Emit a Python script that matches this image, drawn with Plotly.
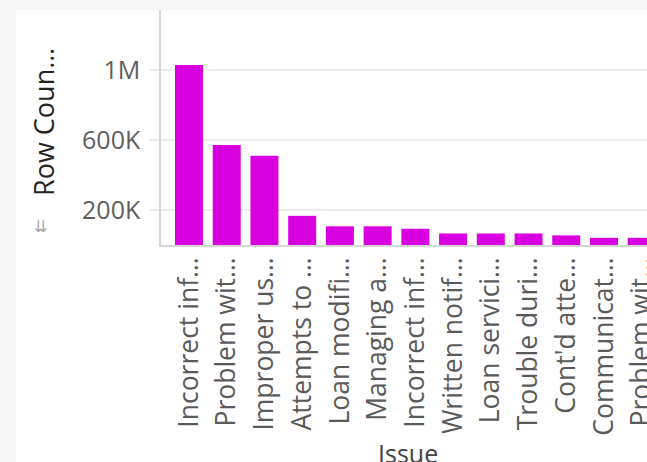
import plotly.graph_objects as go

categories = ["Incorrect inf…", "Problem wit…", "Improper us…", "Attempts to …",
              "Loan modifi…", "Managing a…", "Incorrect inf…", "Written notif…",
              "Loan servici…", "Trouble duri…", "Cont'd atte…", "Communicat…",
              "Problem wit…"]
row_counts = [1030000, 572000, 511000, 167000, 107000, 107000, 93000, 66000,
              66000, 66000, 55000, 41000, 41000]
y_tick_values = [200000, 600000, 1000000]
y_tick_labels = ["200K", "600K", "1M"]

FONT = "Open Sans"
positions = list(range(len(categories)))

fig = go.Figure()
fig.add_trace(go.Bar(x=positions, y=row_counts, marker=dict(color="#D900E0", line=dict(width=0))))

W, H = 647, 462
L, R, T, B = 161, 0, 10, 217
pw = W - L - R
ph = H - T - B

fig.update_layout(
    width=W, height=H,
    margin=dict(l=L, r=R, t=T, b=B, autoexpand=False),
    paper_bgcolor="#f6f6f6",
    plot_bgcolor="rgba(0,0,0,0)",
    bargap=0.258,
    showlegend=False,
    font=dict(family=FONT, color="#605E5C"),
    shapes=[dict(type="rect", xref="paper", yref="paper",
                 x0=(16 - L) / pw, x1=1.1, y0=-2, y1=1.0,
                 fillcolor="white", line=dict(width=0), layer="below")],
)
fig.update_xaxes(
    range=[-0.742, 12.14], automargin=False,
    tickmode="array", tickvals=positions, ticktext=categories,
    tickangle=-90, tickfont=dict(size=26.5, color="#5a5a5a", family=FONT),
    ticklabeloverflow="allow",
    showgrid=False, zeroline=False,
    showline=True, linecolor="#d6d6d6", linewidth=1.5,
    ticks="", fixedrange=True,
)
fig.update_yaxes(
    range=[0, 1345000], automargin=False,
    tickmode="array", tickvals=y_tick_values, ticktext=y_tick_labels,
    tickfont=dict(size=25, color="#605E5C", family=FONT),
    showgrid=True, gridcolor="#ececec", gridwidth=1.5,
    zeroline=False,
    showline=True, linecolor="#d6d6d6", linewidth=1.5,
    ticks="outside", ticklen=10, tickcolor="#ececec", tickwidth=1.5,
    ticklabelstandoff=4,
)
fig.add_annotation(text="Row Coun…", xref="paper", yref="paper",
                   x=(43 - L) / pw, y=(244 - 121) / ph, textangle=-90,
                   xanchor="center", yanchor="middle",
                   showarrow=False, font=dict(size=27, color="#252423", family=FONT))
fig.add_annotation(text="⇊", xref="paper", yref="paper",
                   x=(40 - L) / pw, y=(244 - 225) / ph, textangle=0,
                   xanchor="center", yanchor="middle",
                   showarrow=False, font=dict(size=16, color="#a8a8a8", family="DejaVu Sans"))
fig.add_annotation(text="Issue", xref="paper", yref="paper",
                   x=(408 - L) / pw, y=(244 - 433) / ph, yanchor="top", xanchor="center",
                   showarrow=False, font=dict(size=25, color="#444444", family=FONT))

fig.write_html("out.html", config={"displayModeBar": False},
               post_script="document.body.style.margin='0';document.body.style.overflow='hidden';")
